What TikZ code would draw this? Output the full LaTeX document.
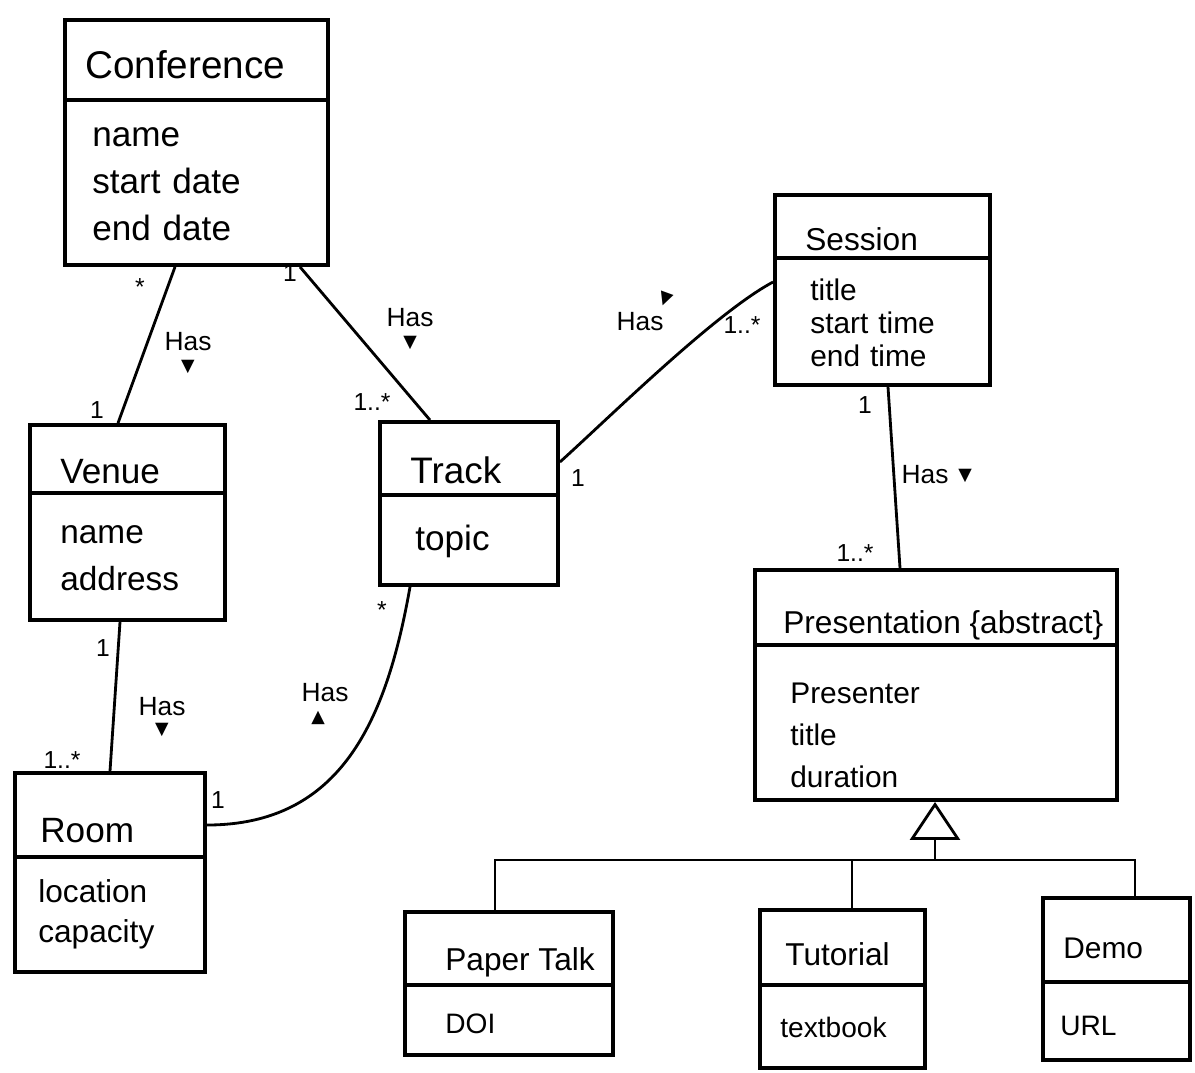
\documentclass[tikz,border=0pt]{standalone}
\usepackage{fontspec}
\setmainfont{Liberation Sans}
\newfontfamily\symfont{DejaVu Sans}
\usetikzlibrary{arrows.meta,calc,fit}

\begin{document}
\begin{tikzpicture}[x=0.02cm,y=-0.02cm,>=Latex]
  \tikzstyle{classbox}=[draw,line width=2.2pt,inner sep=0pt]
  \tikzstyle{divider}=[line width=2.2pt]
  \tikzstyle{cname}=[anchor=base west,inner sep=0pt]
  \tikzstyle{attrs}=[anchor=base west,inner sep=0pt,text width=6cm,align=left]
  \tikzstyle{assoc}=[line width=1.6pt]
  \tikzstyle{mult}=[inner sep=1pt,font=\fontsize{14}{16}\selectfont]
  \tikzstyle{role}=[inner sep=1pt,font=\fontsize{15}{17}\selectfont]
  \tikzstyle{dir}=[inner sep=0pt,font=\symfont\fontsize{10}{12}\selectfont]
  \useasboundingbox (0,0) rectangle (1195,1072);

  % classes
  \node[classbox,fit={(65,20) (328,265)}] (conf) {};
  \draw[divider] (conf.west |- 0,100) -- (conf.east |- 0,100);
  \node[cname,font=\fontsize{22}{26}\selectfont] (conf-t) at (85,78) {Conference};
  \node[attrs,font=\fontsize{20}{27}\selectfont] (conf-a) at (92,146) {name\\start date\\end date};

  \node[classbox,fit={(30,425) (225,620)}] (venue) {};
  \draw[divider] (venue.west |- 0,493) -- (venue.east |- 0,493);
  \node[cname,font=\fontsize{20}{24}\selectfont] (venue-t) at (60,483) {Venue};
  \node[attrs,font=\fontsize{19}{27}\selectfont] (venue-a) at (60,543) {name\\address};

  \node[classbox,fit={(15,773) (205,972)}] (room) {};
  \draw[divider] (room.west |- 0,857) -- (room.east |- 0,857);
  \node[cname,font=\fontsize{20}{24}\selectfont] (room-t) at (40,842) {Room};
  \node[attrs,font=\fontsize{18}{23}\selectfont] (room-a) at (38,902) {location\\capacity};

  \node[classbox,fit={(380,422) (558,585)}] (track) {};
  \draw[divider] (track.west |- 0,495) -- (track.east |- 0,495);
  \node[cname,font=\fontsize{21}{25}\selectfont] (track-t) at (410,483) {Track};
  \node[attrs,font=\fontsize{20}{24}\selectfont] (track-a) at (415,550) {topic};

  \node[classbox,fit={(775,195) (990,385)}] (session) {};
  \draw[divider] (session.west |- 0,258) -- (session.east |- 0,258);
  \node[cname,font=\fontsize{18}{22}\selectfont] (session-t) at (805,250) {Session};
  \node[attrs,font=\fontsize{17}{19}\selectfont] (session-a) at (810,300) {title\\start time\\end time};

  \node[classbox,fit={(755,570) (1117,800)}] (pres) {};
  \draw[divider] (pres.west |- 0,645) -- (pres.east |- 0,645);
  \node[cname,font=\fontsize{18}{22}\selectfont] (pres-t) at (783,633) {Presentation \{abstract\}};
  \node[attrs,font=\fontsize{17}{24}\selectfont] (pres-a) at (790,703) {Presenter\\title\\duration};

  \node[classbox,fit={(405,912) (613,1055)}] (paper) {};
  \draw[divider] (paper.west |- 0,985) -- (paper.east |- 0,985);
  \node[cname,font=\fontsize{18}{22}\selectfont] (paper-t) at (445,970) {Paper Talk};
  \node[attrs,font=\fontsize{16}{20}\selectfont] (paper-a) at (445,1033) {DOI};

  \node[classbox,fit={(760,910) (925,1068)}] (tutorial) {};
  \draw[divider] (tutorial.west |- 0,985) -- (tutorial.east |- 0,985);
  \node[cname,font=\fontsize{18}{22}\selectfont] (tutorial-t) at (785,965) {Tutorial};
  \node[attrs,font=\fontsize{16}{20}\selectfont] (tutorial-a) at (780,1037) {textbook};

  \node[classbox,fit={(1043,898) (1190,1060)}] (demo) {};
  \draw[divider] (demo.west |- 0,982) -- (demo.east |- 0,982);
  \node[cname,font=\fontsize{17}{21}\selectfont] (demo-t) at (1063,958) {Demo};
  \node[attrs,font=\fontsize{16}{20}\selectfont] (demo-a) at (1060,1035) {URL};

  % associations
  \draw[assoc] (conf.south -| 175,0) -- (venue.north -| 118,0);
  \node[mult] (m1) at (140,287) {*};
  \node[mult] (m2) at (97,410) {1};
  \node[role] (r1) at (188,342) {Has};
  \node[dir] (d1) at (188,367) {▼};

  \draw[assoc] (conf.south -| 300,0) -- (track.north -| 430,0);
  \node[mult] (m3) at (290,273) {1};
  \node[mult] (m4) at (372,402) {1..*};
  \node[role] (r2) at (410,318) {Has};
  \node[dir] (d2) at (410,343) {▼};

  \draw[assoc] (venue.south -| 120,0) -- (room.north -| 110,0);
  \node[mult] (m5) at (103,648) {1};
  \node[mult] (m6) at (62,760) {1..*};
  \node[role] (r3) at (162,707) {Has};
  \node[dir] (d3) at (162,730) {▼};

  \draw[assoc] (track.south -| 410,0) to[out=-100,in=0,looseness=1.1] (room.east |- 0,825);
  \node[mult] (m7) at (382,610) {*};
  \node[mult] (m8) at (218,800) {1};
  \node[role] (r4) at (325,693) {Has};
  \node[dir] (d4) at (318,718) {▲};

  \draw[assoc] (track.east |- 0,462) to[out=42,in=208,looseness=0.6] (session.west |- 0,282);
  \node[mult] (m9) at (578,478) {1};
  \node[mult] (m10) at (742,325) {1..*};
  \node[role] (r5) at (640,322) {Has};
  \node[dir,rotate=-20] (d5) at (665,300) {▼};

  \draw[assoc] (session.south -| 888,0) -- (pres.north -| 900,0);
  \node[mult] (m11) at (865,405) {1};
  \node[mult] (m12) at (855,553) {1..*};
  \node[role] (r6) at (925,475) {Has};
  \node[dir] (d6) at (965,476) {▼};

  % generalization
  \coordinate (fork) at (935,860);
  \draw[assoc,-{Triangle[open,length=0.76cm,width=1cm,line width=1.6pt]}] (fork) -- (pres.south -| fork);
  \draw[assoc] (paper.north -| 495,0) |- (fork) -| (demo.north -| 1135,0);
  \draw[assoc] (fork -| 852,0) -- (tutorial.north -| 852,0);
\end{tikzpicture}
\end{document}
